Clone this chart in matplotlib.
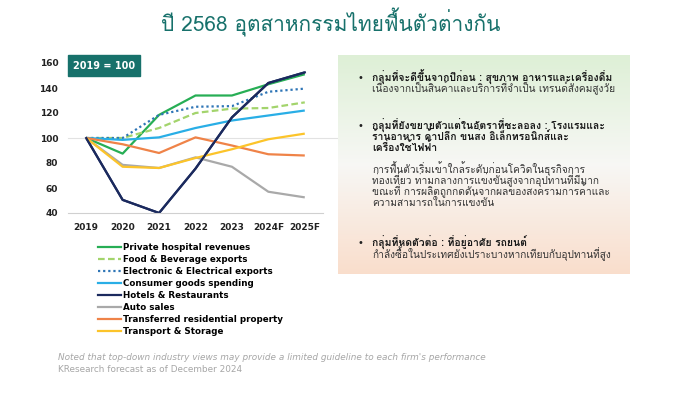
import matplotlib
matplotlib.use("Agg")
import matplotlib.pyplot as plt
import numpy as np
from matplotlib import font_manager
from matplotlib.ft2font import FT2Font
from matplotlib.lines import Line2D
from matplotlib.patches import Rectangle

# pick an installed font that actually has Thai glyphs
def find_font(code):
    for f in font_manager.fontManager.ttflist:
        try:
            cm = FT2Font(f.fname).get_charmap()
        except Exception:
            continue
        if code in cm:
            return f.name
    return "DejaVu Sans"

thai = find_font(0x0E01)

years = ["2019", "2020", "2021", "2022", "2023", "2024F", "2025F"]
hospital = [100, 87.5, 118.5, 134, 134, 143, 151]
food_bev = [100, 100, 108, 120, 123.5, 124, 128.5]
electronic = [100, 100, 118.5, 125, 125.5, 137, 139.5]
consumer = [100, 98.5, 100.5, 108, 114, 118, 122]
hotels = [100, 50.5, 40, 75.5, 116.5, 144, 152.5]
auto = [100, 78.5, 76, 84.5, 77, 57, 52.5]
residential = [100, 95, 88, 100.5, 94, 87, 86]
transport = [100, 77, 76, 84, 91, 99, 103.5]

names = ["Private hospital revenues", "Food & Beverage exports",
         "Electronic & Electrical exports", "Consumer goods spending",
         "Hotels & Restaurants", "Auto sales",
         "Transferred residential property", "Transport & Storage"]
series = [hospital, food_bev, electronic, consumer, hotels, auto,
          residential, transport]
colors = ["#27ae55", "#a3d46c", "#2e75b6", "#29aee6", "#1b2a5e",
          "#a9a9a9", "#ef8348", "#fcc42a"]
styles = ["-", (0, (3, 1.5)), (0, (1, 1.3)), "-", "-", "-", "-", "-"]

teal = "#17716b"

fig = plt.figure(figsize=(6.88, 3.93), dpi=100)
W, H = 688, 393

def fx(px):
    return px / W

def fy(py):
    return 1 - py / H

fig.text(fx(331), fy(22), "ปี 2568 อุตสาหกรรมไทยฟื้นตัวต่างกัน", ha="center",
         va="center", fontsize=15, color=teal, family=[thai, "DejaVu Sans"])

ax = fig.add_axes([fx(68), fy(213), fx(323 - 68), (213 - 63) / H])
x = np.arange(len(years))
for s, c, ls in zip(series, colors, styles):
    ax.plot(x, s, color=c, lw=1.6, linestyle=ls, solid_capstyle="butt")
ax.plot(x, hotels, color=colors[4], lw=1.6)
ax.set_xlim(-0.5, 6.5)
ax.set_ylim(40, 160)
ax.set_xticks(x)
ax.set_xticklabels(years)
ax.set_yticks(range(40, 161, 20))
for sp in ["top", "right", "left"]:
    ax.spines[sp].set_visible(False)
ax.spines["bottom"].set_color("#d0d0d0")
ax.spines["bottom"].set_linewidth(0.8)
ax.axhline(100, color="#e2e2e2", lw=0.8, zorder=0, xmax=1.08, clip_on=False)
ax.tick_params(length=0, labelsize=6.5, pad=7, colors="#222222")
for lab in ax.get_xticklabels() + ax.get_yticklabels():
    lab.set_fontweight("bold")
ax.patch.set_alpha(0)

# base-year box
fig.patches.append(Rectangle((fx(68), fy(76)), fx(140 - 68), (76 - 55) / H,
                             transform=fig.transFigure, color=teal))
fig.text(fx(104), fy(66), "2019 = 100", ha="center", va="center",
         color="white", fontsize=7, fontweight="bold")

handles = [Line2D([], [], color=c, lw=1.6, linestyle=ls)
           for c, ls in zip(colors, styles)]
fig.legend(handles, names, loc="upper left",
           bbox_to_anchor=(fx(94), fy(240)), frameon=False,
           prop={"size": 6.3, "weight": "bold"}, handlelength=2.7,
           handletextpad=0.25, labelspacing=0.34, borderaxespad=0)

# gradient panel on the right
pax = fig.add_axes([fx(338), fy(274), fx(630 - 338), (274 - 55) / H])
t = np.linspace(0, 1, 200)
top = np.array([0.87, 0.94, 0.84])
mid = np.array([0.97, 0.97, 0.96])
bot = np.array([0.98, 0.87, 0.80])
grad = np.where(t[:, None] < 0.5,
                top + (mid - top) * (t[:, None] / 0.5),
                mid + (bot - mid) * ((t[:, None] - 0.5) / 0.5))
pax.imshow(grad[:, None, :], aspect="auto", extent=[0, 1, 1, 0])
pax.axis("off")

tfont = [thai, "DejaVu Sans"]
lines = [
    (78, "กลุ่มที่จะดีขึ้นจากปีก่อน : สุขภาพ อาหารและเครื่องดื่ม", True),
    (89, "เนื่องจากเป็นสินค้าและบริการที่จำเป็น เทรนด์สังคมสูงวัย", False),
    (126, "กลุ่มที่ยังขยายตัวแต่ในอัตราที่ชะลอลง : โรงแรมและ", True),
    (137, "ร้านอาหาร ค้าปลีก ขนส่ง อิเล็กทรอนิกส์และ", True),
    (148, "เครื่องใช้ไฟฟ้า", True),
    (170, "การฟื้นตัวเริ่มเข้าใกล้ระดับก่อนโควิดในธุรกิจการ", False),
    (181, "ท่องเที่ยว ท่ามกลางการแข่งขันสูงจากอุปทานที่มีมาก", False),
    (192, "ขณะที่ การผลิตถูกกดดันจากผลของสงครามการค้าและ", False),
    (203, "ความสามารถในการแข่งขัน", False),
    (243, "กลุ่มที่หดตัวต่อ : ที่อยู่อาศัย รถยนต์", True),
    (255, "กำลังซื้อในประเทศยังเปราะบางหากเทียบกับอุปทานที่สูง", False),
]
for yy in [78, 126, 243]:
    fig.text(fx(360), fy(yy), "•", ha="center", va="center", fontsize=7,
             color="#222222")
for yy, s, b in lines:
    fig.text(fx(372), fy(yy + 3.5), s, ha="left", va="baseline",
             fontsize=7.5 if b else 7.3, fontweight="bold" if b else "normal",
             color="#1a1a1a" if b else "#333333", family=tfont)

fig.text(fx(58), fy(357), "Noted that top-down industry views may provide a "
         "limited guideline to each firm's performance", fontsize=6.4,
         style="italic", color="#a6a6a6", va="center")
fig.text(fx(58), fy(369), "KResearch forecast as of December 2024",
         fontsize=6.4, color="#a6a6a6", va="center")

fig.savefig("out.png", dpi=100)
